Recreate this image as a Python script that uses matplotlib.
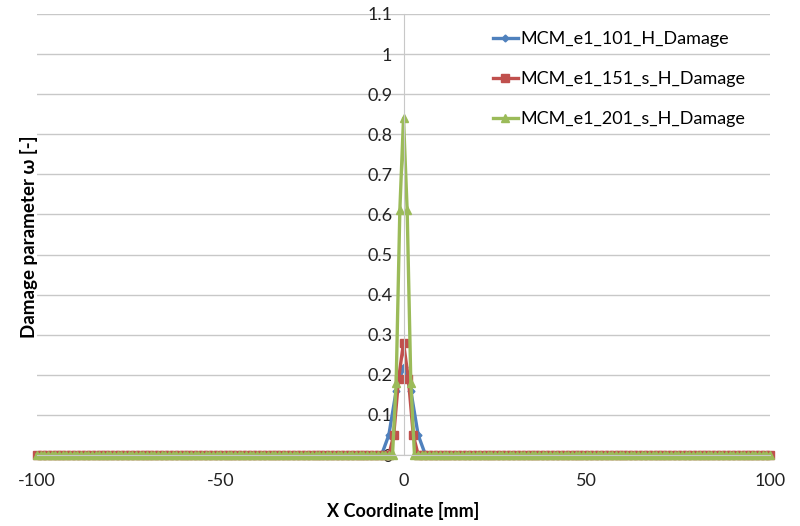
import matplotlib.pyplot as plt
import numpy as np

plt.rcParams['font.family'] = ['Lato', 'DejaVu Sans']
plt.rcParams['axes.unicode_minus'] = False

# node counts along the 200 mm path and the non-zero damage values around x = 0
series_names = ['MCM_e1_101_H_Damage', 'MCM_e1_151_s_H_Damage', 'MCM_e1_201_s_H_Damage']
node_counts = [101, 151, 201]
peak_values = [
    [0.05, 0.16, 0.22, 0.16, 0.05],
    [0.05, 0.19, 0.28, 0.19, 0.05],
    [0.18, 0.61, 0.84, 0.61, 0.18],
]
colors = ['#4F81BD', '#C0504D', '#9BBB59']
markers = ['D', 's', '^']
marker_sizes = [3.5, 5.5, 5.5]
x_span = (-100, 100)


def damage_profile(n_nodes, peak):
    x = np.linspace(x_span[0], x_span[1], n_nodes)
    y = np.zeros(n_nodes)
    mid = n_nodes // 2
    half = len(peak) // 2
    y[mid - half:mid + half + 1] = peak
    return x, y


fig = plt.figure(figsize=(8, 5.26), dpi=100)
ax = fig.add_axes([37 / 800, 71 / 526, 733 / 800, 441 / 526])

for name, n, peak, c, m, ms in zip(series_names, node_counts, peak_values, colors, markers, marker_sizes):
    x, y = damage_profile(n, peak)
    ax.plot(x, y, color=c, marker=m, markersize=ms, linewidth=2.4, label=name, clip_on=False)

ax.set_xlim(-100, 100)
ax.set_ylim(0, 1.1)
ax.set_yticks(np.arange(0, 1.11, 0.1))
ax.set_yticklabels(['0', '0.1', '0.2', '0.3', '0.4', '0.5', '0.6', '0.7', '0.8', '0.9', '1', '1.1'])
ax.set_xticks([-100, -50, 0, 50, 100])
ax.grid(axis='y', color='#c8c8c8', linewidth=1)
ax.set_axisbelow(True)

for side in ('top', 'right'):
    ax.spines[side].set_visible(False)
ax.spines['left'].set_position(('data', 0))
ax.spines['left'].set_color('#c8c8c8')
ax.spines['bottom'].set_color('#c8c8c8')
ax.tick_params(axis='both', length=0, labelsize=13, colors='#222222')
ax.tick_params(axis='x', pad=13)
ax.tick_params(axis='y', pad=8)

ax.set_xlabel('X Coordinate [mm]', fontsize=13, fontweight='bold', labelpad=9)
fig.text(0.036, 0.55, 'Damage parameter ω [-]', rotation=90, fontsize=13.5,
         fontweight='bold', ha='center', va='center')

leg = ax.legend(loc='upper left', bbox_to_anchor=(0.612, 0.977), frameon=False,
                fontsize=13, handlelength=1.4, handletextpad=0.1,
                labelspacing=1.33, borderaxespad=0)

fig.savefig('out.png', dpi=100)
